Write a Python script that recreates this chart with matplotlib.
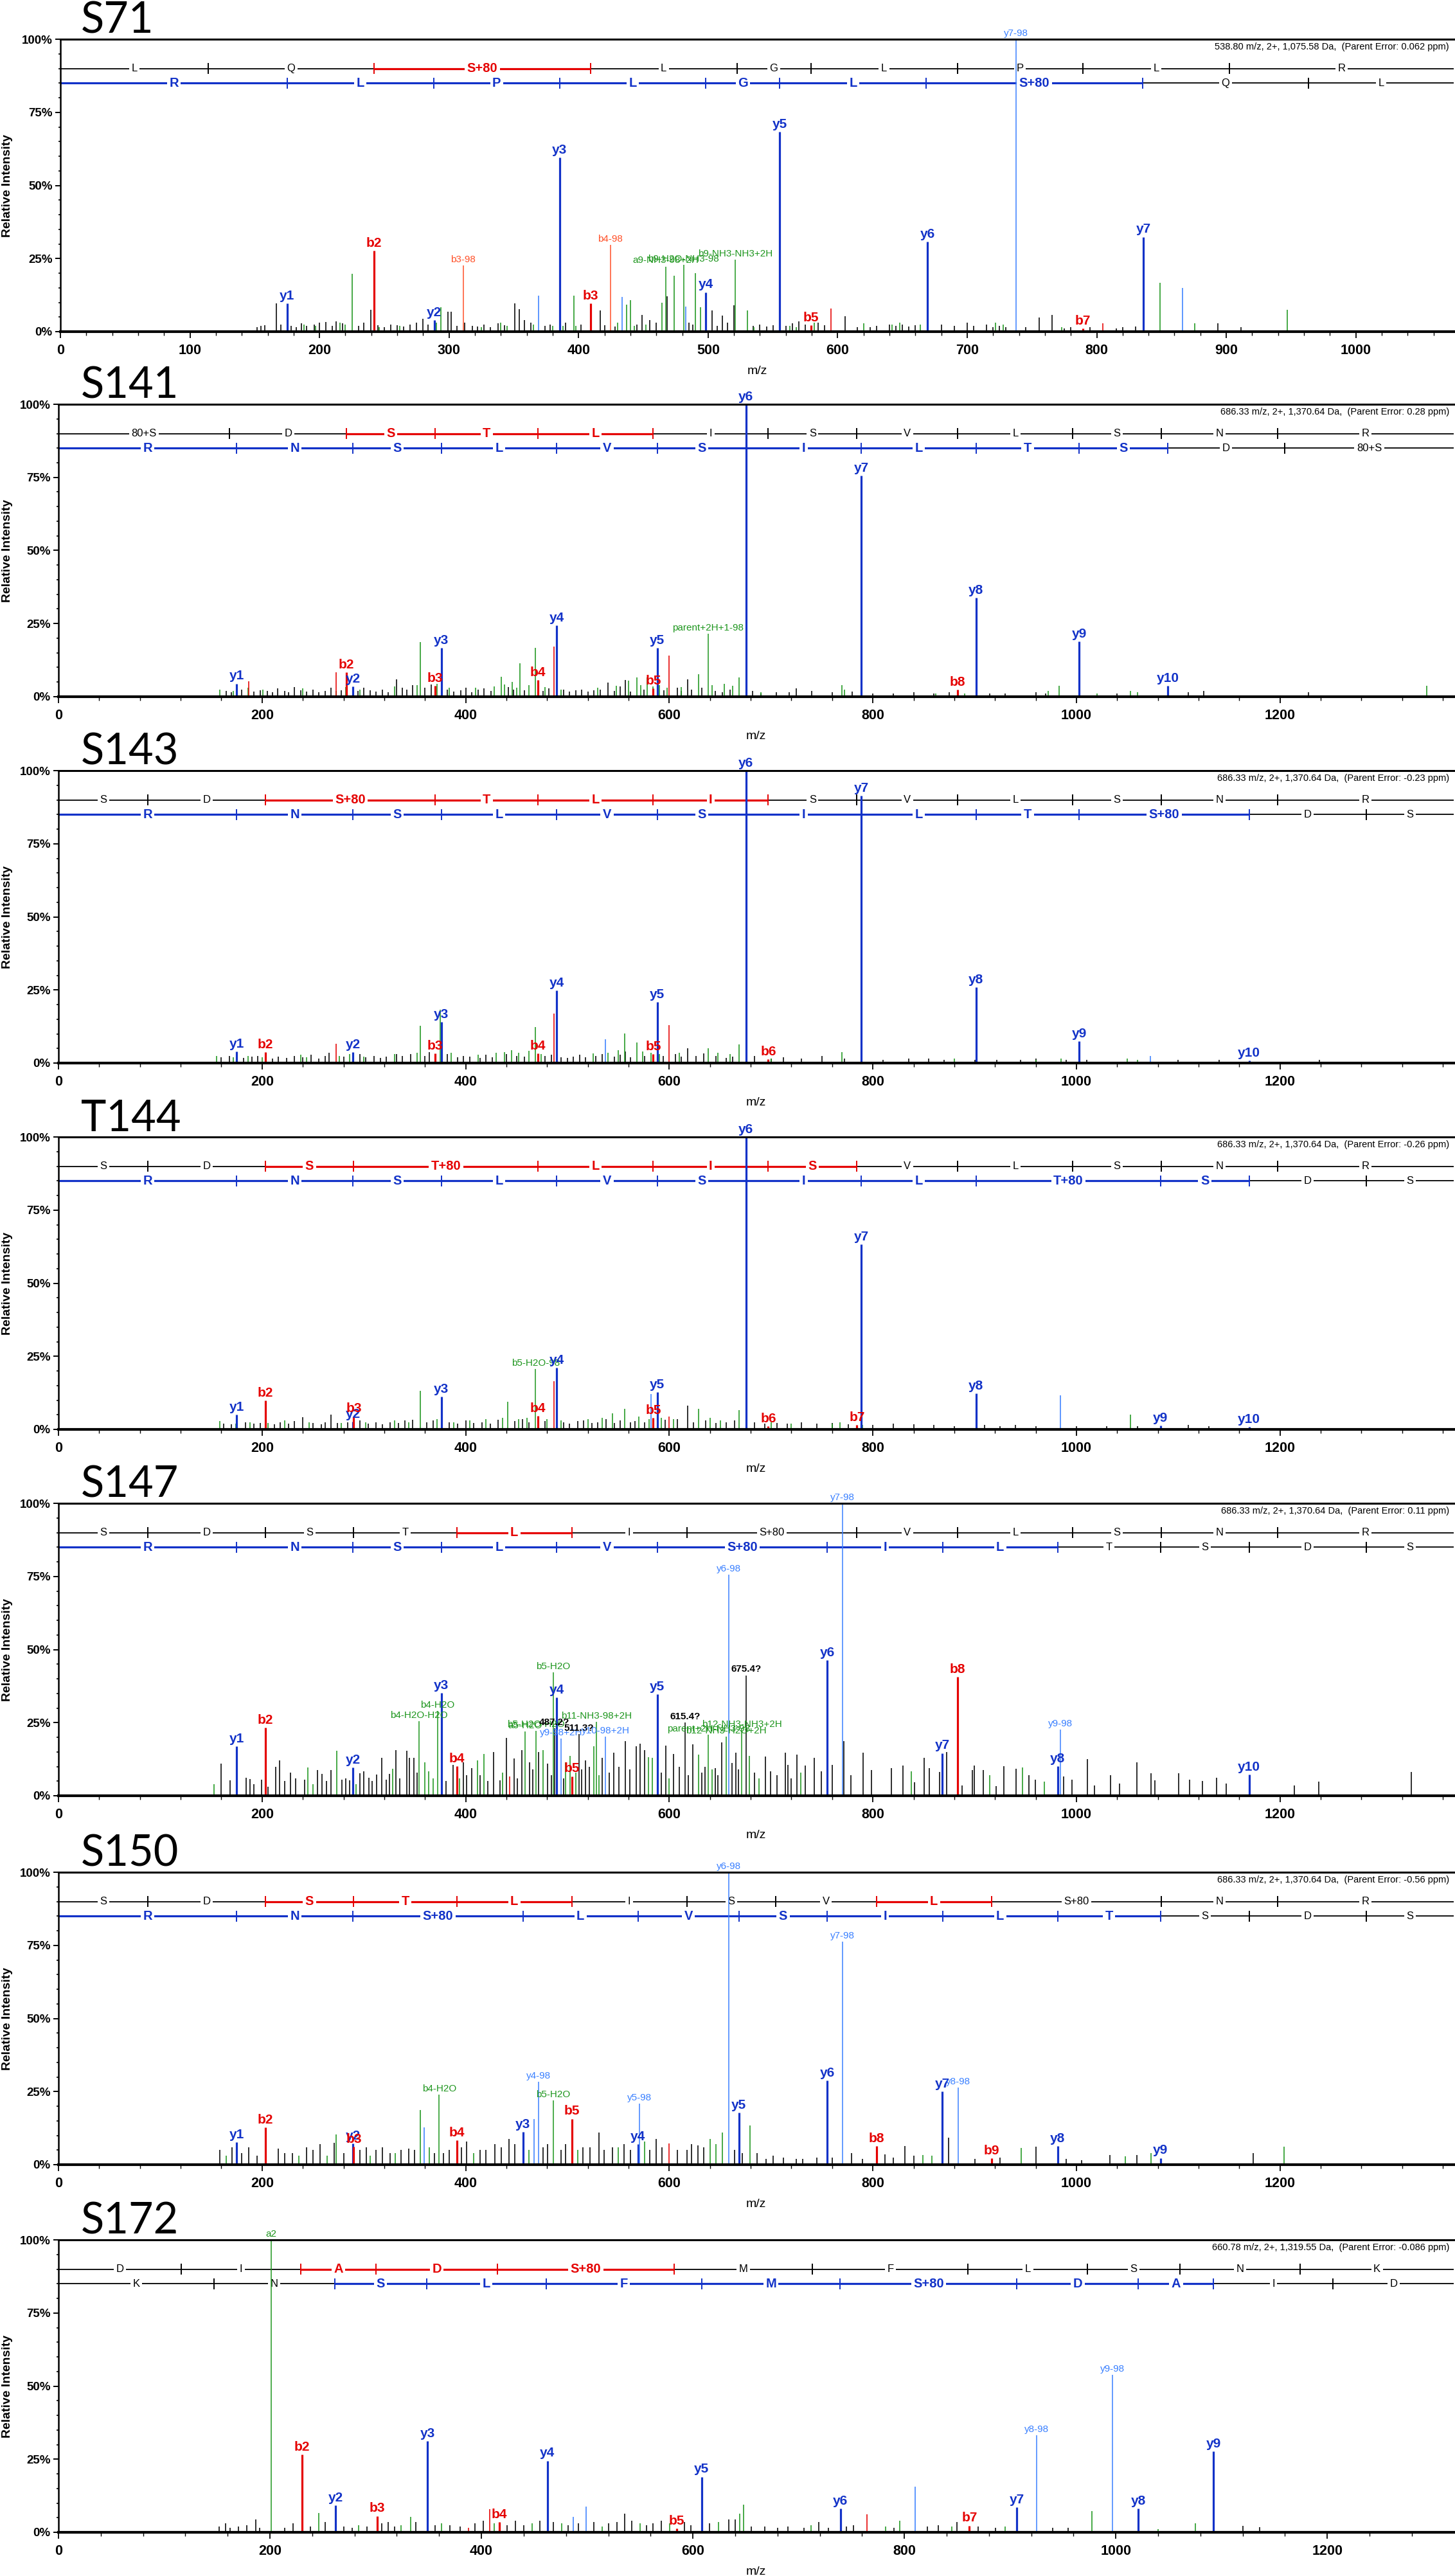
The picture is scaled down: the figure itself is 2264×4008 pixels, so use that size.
import numpy as np
import matplotlib
matplotlib.use("Agg")
import matplotlib.pyplot as plt
from matplotlib import font_manager as fm

_names = {f.name for f in fm.fontManager.ttflist}
SANS = "Liberation Sans" if "Liberation Sans" in _names else "DejaVu Sans"
TITLE_FONT = "Lato" if "Lato" in _names else SANS
plt.rcParams["font.family"] = [SANS, "DejaVu Sans"]

# ======================= DATA =======================
# ---------- Panel 1 : S71 ----------
S71_ion_mz = [175.1, 242.2, 288.6, 311.0, 385.3, 409.2, 424.5, 467.3, 481.0, 498.3, 521.1, 555.3, 579.3, 669.3, 737.6, 789.4, 836.2]
S71_ion_int = [9.6, 27.7, 4.0, 22.7, 59.5, 9.6, 29.6, 22.3, 22.8, 13.5, 24.7, 68.3, 2.1, 30.8, 100.0, 1.1, 32.4]
S71_ion_lab = ["y1", "b2", "y2", "b3-98", "y3", "b3", "b4-98", "a9-NH3-98+2H", "b9-H2O-NH3-98", "y4", "b9-NH3-NH3+2H", "y5", "b5", "y6", "y7-98", "b7", "y7"]
S71_ion_col = ["B", "r", "B", "o", "B", "r", "o", "g", "g", "B", "g", "B", "r", "B", "c", "r", "B"]
S71_blk_mz = [152, 155, 158, 166.6, 170, 178, 182, 186, 190, 196,
              200, 205, 210, 213, 218, 230, 234, 239.8, 245, 250,
              255, 260, 265, 270, 275, 280, 284, 299.3, 301.8, 306,
              312, 318, 322, 327, 332, 338, 343, 350.9, 354, 358,
              363, 374, 378, 390, 402, 416.9, 420, 428, 445, 449.1,
              455, 460, 468.5, 485, 488, 502.9, 507, 510.8, 515, 519.7,
              535, 540, 545, 550, 560, 565, 570, 575, 585, 590,
              605.8, 615, 625, 630, 640, 645, 650, 655, 660, 680,
              690, 700, 705, 715, 720, 725, 730, 745, 755.6, 765.7,
              775, 780, 795, 815, 820, 830, 893.6, 911.5]
S71_blk_int = [1.5, 2, 2.3, 9.7, 2.5, 2, 1.5, 2.8, 2, 2.5,
               3, 3.2, 2, 3.5, 2.8, 2, 3.1, 7.5, 2.2, 1.5,
               2.5, 2.2, 1.8, 2.4, 3, 4.5, 2.5, 6.8, 6.8, 2,
               3, 2, 1.8, 2.5, 1.5, 2.8, 2.2, 9.6, 7.6, 4,
               3, 2, 2.5, 3, 2.5, 7.2, 2.2, 1.8, 2.5, 5.8,
               4, 3, 12, 3, 2.5, 7.2, 2, 5.5, 3, 9,
               2, 2.5, 1.8, 2.2, 2, 2.8, 3.5, 2.5, 3, 2.2,
               5.3, 1.5, 1.5, 2, 2.5, 2, 2.5, 1.8, 2.2, 2.5,
               2, 3, 2, 2.5, 1.5, 2, 1.5, 1.5, 4.9, 5.7,
               1.2, 1.5, 1.5, 1.2, 1.5, 1.8, 2.9, 1.6]
S71_grn_mz = [188, 197, 216, 220, 225, 246, 262, 290, 293.9, 325,
              340, 345, 365, 380, 388, 396.4, 398, 430, 436.9, 440,
              443, 452, 464.5, 473.9, 490, 494.3, 530.4, 535.5, 563, 568,
              582, 620, 642, 648, 664, 722, 728, 773, 848.8, 875.6, 947]
S71_grn_int = [2.5, 2, 3, 2.5, 19.8, 1.5, 2, 3, 8.4, 1.5,
               3, 2, 2.5, 2, 2, 12.2, 2, 3, 9.2, 10.8,
               2, 2.5, 10, 19.2, 20, 8.3, 7.2, 1.5, 2, 1.5,
               3, 2.8, 2.5, 3, 2.5, 3, 2.5, 1.5, 16.8, 2.9, 7.5]
S71_blu_mz = [369.2, 433.4, 482.5, 866]
S71_blu_int = [12.2, 11.8, 8.6, 14.9]
S71_red_mz = [594.6, 804.6]
S71_red_int = [7.9, 2.9]
S71_top_res = ["L", "Q", "S+80", "L", "G", "L", "P", "L", "R"]
S71_top_cut = [114.09, 242.15, 409.15, 522.23, 579.25, 692.34, 789.39, 902.47]
S71_top_col = "kkrkkkkkk"
S71_bot_res = ["R", "L", "P", "L", "G", "L", "S+80", "Q", "L"]
S71_bot_cut = [175.12, 288.2, 385.25, 498.34, 555.36, 668.44, 835.44, 963.5]
S71_bot_col = "BBBBBBBkk"

# ---------- Panel 2 : S141 ----------
S141_ion_mz = [175.1, 283.0, 289.2, 370.1, 376.2, 471.1, 489.3, 584.2, 588.3, 638.3, 675.4, 788.5, 883.4, 901.5, 1002.6, 1089.6]
S141_ion_int = [4.5, 8.4, 3.6, 3.7, 16.6, 5.7, 24.4, 2.8, 16.6, 21.5, 100.0, 75.6, 2.4, 33.8, 18.8, 3.7]
S141_ion_lab = ["y1", "b2", "y2", "b3", "y3", "b4", "y4", "b5", "y5", "parent+2H+1-98", "y6", "y7", "b8", "y8", "y9", "y10"]
S141_ion_col = ["B", "r", "B", "r", "B", "r", "B", "r", "B", "g", "B", "B", "r", "B", "B", "B"]
S141_blk_mz = [165, 170, 180, 192, 198, 205, 210, 215, 222, 226,
               231.6, 238, 244, 250, 256, 262, 268, 278, 294, 300,
               306, 312, 318, 324, 332, 338, 342, 348, 360, 366,
               382, 388, 395, 400, 406, 412, 418, 425, 442, 447,
               458, 476, 482, 496, 502, 508, 514, 520, 526, 532,
               540, 546, 552, 557, 562, 575, 595, 608, 612, 618,
               622, 632, 645, 652, 660, 682, 690, 705, 718, 725,
               740, 760, 780, 800, 820, 840, 860, 875, 915, 930,
               960, 970, 1040, 1110, 1125, 1228]
S141_blk_int = [2, 1.5, 2.5, 1.8, 2.2, 2, 1.5, 2.8, 2, 1.6,
                3.4, 2.2, 1.8, 2.5, 1.5, 2, 3, 2.2, 2, 3,
                2.2, 1.8, 2.5, 1.5, 6, 3, 2.5, 4, 3, 4.2,
                2.5, 1.8, 2.2, 3, 1.5, 2.5, 2.8, 2, 3.2, 2.4,
                2.2, 2, 2.8, 2.5, 1.8, 2.2, 2.5, 1.8, 2.2, 2.5,
                4.9, 2, 3.5, 5.7, 1.8, 2.5, 2.2, 3, 2, 6,
                2.5, 3, 2, 1.5, 2.5, 2, 1.2, 1.5, 1.5, 2.8,
                2, 1.5, 1.8, 1.2, 1, 1.5, 1, 1.5, 1.2, 1,
                1.5, 1.2, 1, 1.5, 2, 1.6]
S141_grn_mz = [158.7, 172, 186, 201, 240, 273, 282, 296, 330, 352,
               355.6, 372, 384, 410, 428, 435, 438, 446, 450, 453,
               462, 468.7, 478, 494, 530, 548, 560, 568, 572, 578,
               584, 590, 598, 612, 629, 642, 654, 662, 668.4, 690,
               769.7, 772, 862, 890, 972, 983, 1020, 1053, 1060, 1344.2]
S141_grn_int = [2.4, 2, 3, 2.5, 2.8, 2, 3.2, 2.5, 3.5, 4,
                18.7, 4.5, 3, 3, 3.6, 6.9, 4.2, 5, 3, 11.4,
                4, 16.6, 3.2, 2.5, 3, 3.8, 5.5, 6.5, 4, 6.5,
                3.5, 4, 3, 3.3, 7.7, 4, 4.5, 3.8, 6.5, 1.5,
                4, 2.5, 1.2, 1, 2, 3.7, 1.2, 2, 1.5, 3.7]
S141_blu_mz = []
S141_blu_int = []
S141_red_mz = [187, 272.7, 487, 600]
S141_red_int = [5.3, 8.3, 17.2, 14]
S141_top_res = ["80+S", "D", "S", "T", "L", "I", "S", "V", "L", "S", "N", "R"]
S141_top_cut = [168.0, 283.03, 370.06, 471.11, 584.2, 697.28, 784.31, 883.38, 996.46, 1083.5, 1197.5]
S141_top_col = "kkrrrkkkkkkk"
S141_bot_res = ["R", "N", "S", "L", "V", "S", "I", "L", "T", "S", "D", "80+S"]
S141_bot_cut = [175.12, 289.16, 376.19, 489.28, 588.34, 675.38, 788.46, 901.54, 1002.59, 1089.62, 1204.65]
S141_bot_col = "BBBBBBBBBBkk"

# ---------- Panel 3 : S143 ----------
S143_ion_mz = [175.1, 203.1, 289.2, 370.1, 376.2, 471.1, 489.3, 584.2, 588.3, 675.4, 697.3, 788.5, 901.5, 1002.6, 1169.6]
S143_ion_int = [3.9, 3.7, 3.7, 3.2, 14.0, 3.2, 24.8, 3.0, 20.9, 100.0, 1.3, 91.5, 26.0, 7.5, 0.8]
S143_ion_lab = ["y1", "b2", "y2", "b3", "y3", "b4", "y4", "b5", "y5", "y6", "b6", "y7", "y8", "y9", "y10"]
S143_ion_col = ["B", "r", "B", "r", "B", "r", "B", "r", "B", "B", "r", "B", "B", "B", "B"]
S143_blk_mz = [160, 168, 182, 190, 196, 210, 216, 224, 232, 240,
               248, 256, 262, 266, 280, 296, 302, 310, 316, 322,
               332, 338, 346, 360, 364, 382, 392, 398, 404, 414,
               420, 426, 440, 450, 458, 478, 484, 494, 500, 506,
               512, 518, 528, 534, 546, 552, 557, 562, 576, 594,
               606, 612, 618, 626, 634, 646, 656, 662, 684, 700,
               712, 730, 750, 772, 810, 835, 855, 870, 900, 922,
               945, 960, 990, 1010, 1100, 1140, 1239]
S143_blk_int = [2, 2.5, 1.8, 2.2, 2.5, 1.5, 2.2, 1.8, 2.5, 2,
                2.8, 1.6, 2.5, 3.5, 2.2, 3, 2, 2.5, 1.8, 2.2,
                3, 2.5, 3, 2.5, 3.8, 3, 2, 2.5, 2.2, 1.8,
                2.8, 2, 3, 2.5, 2.2, 2.5, 2.8, 2, 1.8, 2.2,
                2.8, 2, 2.5, 3, 2.2, 2.8, 4, 2, 2.5, 2.5,
                3, 2.2, 5, 2.5, 3.2, 2.5, 1.8, 2.2, 2.5, 1.5,
                2, 1.5, 2.5, 1.5, 1.2, 1.5, 1.5, 1.2, 1, 1,
                1.2, 1.5, 1, 1.2, 1, 1.2, 1]
S143_grn_mz = [155, 172, 186, 200, 238, 244, 276, 286, 300, 330,
               352, 355.6, 374.8, 386, 412, 430, 438, 445, 452, 462,
               468.7, 474, 490, 525, 540, 550, 556, 568, 574, 582,
               590, 610, 638, 648, 660, 668.4, 700, 769.7, 880, 960,
               985, 1050, 1060]
S143_grn_int = [2.5, 2, 2.5, 2, 2.8, 2, 2.5, 3, 2.2, 3,
                3.5, 12.7, 18.3, 3.5, 2.8, 3.5, 3.8, 4.3, 3.5, 4.2,
                12.4, 3, 2.5, 3.2, 3.5, 4.5, 10.2, 7.1, 4, 3.5,
                3, 3.5, 5.1, 3.5, 3, 6.3, 1.5, 3.7, 1.5, 1.2,
                1.5, 1.5, 1.2]
S143_blu_mz = [537, 1072.4]
S143_blu_int = [8.1, 2.4]
S143_red_mz = [272.7, 487, 600]
S143_red_int = [6.7, 17, 13]
S143_top_res = ["S", "D", "S+80", "T", "L", "I", "S", "V", "L", "S", "N", "R"]
S143_top_cut = [88.04, 203.07, 370.07, 471.12, 584.2, 697.28, 784.31, 883.38, 996.46, 1083.5, 1197.5]
S143_top_col = "kkrrrrkkkkkk"
S143_bot_res = ["R", "N", "S", "L", "V", "S", "I", "L", "T", "S+80", "D", "S"]
S143_bot_cut = [175.12, 289.16, 376.19, 489.28, 588.34, 675.38, 788.46, 901.54, 1002.59, 1169.6, 1284.6]
S143_bot_col = "BBBBBBBBBBkk"

# ---------- Panel 4 : T144 ----------
T144_ion_mz = [175.1, 203.1, 289.2, 290.1, 376.2, 468.7, 471.1, 489.3, 584.2, 588.3, 675.4, 697.3, 784.3, 788.5, 901.5, 1082.6, 1169.6]
T144_ion_int = [5.0, 9.8, 2.7, 4.5, 11.2, 20.6, 4.7, 21.0, 3.9, 12.7, 100.0, 1.0, 1.6, 63.2, 12.2, 1.3, 0.8]
T144_ion_lab = ["y1", "b2", "y2", "b3", "y3", "b5-H2O-98", "b4", "y4", "b5", "y5", "y6", "b6", "b7", "y7", "y8", "y9", "y10"]
T144_ion_col = ["B", "r", "B", "r", "B", "g", "r", "B", "r", "B", "B", "r", "r", "B", "B", "B", "B"]
T144_blk_mz = [162, 170, 184, 192, 198, 212, 218, 226, 232, 239.8,
               250, 258, 262, 268, 274, 284, 296, 304, 312, 318,
               326, 334, 340, 348, 362, 368, 384, 392, 400, 408,
               416, 424, 432, 448, 456, 462, 478, 496, 502, 510,
               516, 524, 530, 538, 546, 552, 562, 566, 576, 596,
               608, 618, 624, 636, 646, 656, 664, 684, 694, 706,
               716, 730, 745, 760, 776, 800, 820, 840, 860, 880,
               910, 925, 940, 960, 1000, 1030, 1060, 1110, 1130]
T144_blk_int = [2, 1.8, 2.5, 2, 2.2, 1.8, 2.5, 2, 2.8, 4.1,
                2.2, 1.8, 2.5, 5, 2.2, 2.5, 3, 2, 2.5, 1.8,
                2.5, 2.2, 3, 3.2, 2.5, 3, 2.5, 2, 3, 2.2,
                2.5, 2, 3.2, 2.8, 3.5, 2.5, 2.8, 2.5, 2, 2.8,
                3, 2.2, 2.5, 3.5, 2.2, 3, 2.5, 2.8, 2.5, 3.2,
                3.5, 8.1, 2.5, 3, 2.2, 2.5, 3, 2.5, 2, 2.2,
                2, 2.5, 2, 2.2, 1.8, 1.5, 2, 1.8, 1.5, 1.2,
                1.5, 1.2, 1.5, 1.2, 1, 1.2, 1, 1.5, 1]
T144_grn_mz = [158.7, 174, 188, 206, 222, 246, 278, 290, 302, 330,
               344, 355.6, 372, 388, 404, 420, 436, 441.4, 452, 460,
               480, 494, 520, 534, 544, 556, 570, 580, 592, 604,
               629, 640, 650, 668.4, 700, 720, 760, 768, 790, 1053]
T144_grn_int = [2.9, 2, 2.5, 2.2, 3, 2.5, 2.2, 3, 2.5, 3,
                2.5, 13.2, 3.5, 2.5, 3, 3.5, 4, 9.4, 3.5, 4,
                3.5, 3, 3.5, 4, 5.5, 7.1, 4.5, 3.5, 4, 3.5,
                7.1, 4, 3, 6.7, 2.5, 2, 2, 2.5, 1.5, 5]
T144_blu_mz = [581.8, 984]
T144_blu_int = [12.0, 11.6]
T144_red_mz = [487, 600]
T144_red_int = [16.5, 4.3]
T144_top_res = ["S", "D", "S", "T+80", "L", "I", "S", "V", "L", "S", "N", "R"]
T144_top_cut = [88.04, 203.07, 290.1, 471.11, 584.2, 697.28, 784.31, 883.38, 996.46, 1083.5, 1197.5]
T144_top_col = "kkrrrrrkkkkk"
T144_bot_res = ["R", "N", "S", "L", "V", "S", "I", "L", "T+80", "S", "D", "S"]
T144_bot_cut = [175.12, 289.16, 376.19, 489.28, 588.34, 675.38, 788.46, 901.54, 1082.55, 1169.58, 1284.6]
T144_bot_col = "BBBBBBBBBBkk"

# ---------- Panel 5 : S147 ----------
S147_ion_mz = [175.1, 203.1, 289.2, 354.3, 372.4, 376.2, 391.2, 458.2, 469.2, 486.2, 487.2, 489.3, 493.7, 504.2, 511.3, 528.6,
               537.4, 588.3, 615.4, 638.4, 656.0, 658.4, 671.1, 675.4, 755.3, 770.5, 868.4, 883.4, 981.5, 984.0, 1169.6]
S147_ion_int = [17.0, 23.2, 9.7, 25.5, 29.1, 35.1, 10.2, 22.0, 22.3, 42.1, 23.0, 33.7, 19.5, 6.7, 21.0, 25.3,
                20.3, 34.8, 25.0, 20.9, 20.2, 75.5, 22.3, 41.2, 46.3, 100.0, 14.6, 40.7, 10.1, 22.7, 7.3]
S147_ion_lab = ["y1", "b2", "y2", "b4-H2O-H2O", "b4-H2O", "y3", "b4", "a5-H2O", "b5-H2O-H2O", "b5-H2O", "487.2?", "y4",
                "y9-98+2H", "b5", "511.3?", "b11-NH3-98+2H", "y10-98+2H", "y5", "615.4?", "parent+2H-NH3-98",
                "b12-NH3-H2O+2H", "y6-98", "b12-NH3-NH3+2H", "675.4?", "y6", "y7-98", "y7", "b8", "y8", "y9-98", "y10"]
S147_ion_col = ["B", "r", "B", "g", "g", "B", "r", "g", "g", "g", "k", "B", "c", "r", "k", "g",
                "c", "B", "k", "g", "g", "c", "g", "k", "B", "c", "B", "r", "B", "c", "B"]
S147_blk_mz = [159.6, 168.7, 184.3, 187.9, 192, 199.6, 206, 213.4, 217, 222,
               228, 233, 241.8, 254.5, 259.1, 263, 267.6, 278.3, 282, 286.1,
               296, 299.6, 304.9, 308, 312.4, 317.7, 322, 325.2, 331.6, 335,
               342.2, 345, 349.3, 352, 381, 387.6, 397.5, 400.7, 406, 414,
               422, 427.3, 433.7, 440.1, 447.9, 451, 455, 462.8, 466, 471.6,
               480.5, 484, 496, 514, 517.8, 521.4, 533.8, 541, 545.5, 550.5,
               556.9, 561, 567.5, 571.1, 575.7, 592, 596.7, 604.1, 610, 619,
               623.3, 632, 635, 645, 648, 651.7, 661.6, 665.2, 668, 684,
               694.4, 699.7, 706, 713.9, 716.8, 720, 725.6, 733.8, 742.4, 749.7,
               760.3, 771.8, 778.3, 790.2, 798.8, 818.4, 829.4, 840.9, 850.3, 855.2,
               865.4, 872.8, 887.5, 897.7, 899.8, 908.8, 921.4, 928.4, 940.6, 953.3,
               959.5, 987.3, 995.5, 1010.6, 1018, 1033.5, 1042.1, 1059.7, 1073.2, 1077.3,
               1100.6, 1111.2, 1123.9, 1137.8, 1147.2, 1214.2, 1238.3, 1329]
S147_blk_int = [11, 5.3, 6.2, 5.8, 4, 5.6, 3, 10, 12.1, 5,
                8, 6, 5.5, 8.8, 7.4, 5, 8.9, 5.5, 6, 5.2,
                7.7, 8.4, 6.2, 5, 7.3, 12.9, 5.5, 7.4, 15.5, 6,
                15.3, 13, 12.9, 8, 5, 10.6, 11.4, 7, 9.5, 7,
                5, 15, 5.2, 19.7, 12.8, 6, 15.7, 11.4, 9, 15,
                11, 7, 6, 9, 12.1, 10, 12.9, 8, 14.7, 10,
                18.6, 9, 16.9, 17.9, 15.7, 8, 17.2, 14.3, 10, 7,
                17.6, 8, 10, 9.5, 7, 18.3, 11.2, 14.7, 9, 8,
                13.4, 8.4, 7, 14.7, 10.5, 6, 14, 10.3, 12.9, 8.4,
                10.6, 18.6, 7.1, 14.7, 8.8, 9.4, 10.3, 4.6, 12.9, 9.4,
                8.2, 15, 3.6, 8.7, 10.3, 8.9, 3.4, 10.1, 9.2, 7.1,
                5.6, 6.6, 5.6, 12.6, 3.6, 7.1, 4.1, 11.4, 7.7, 5.3,
                7.7, 5.6, 5, 6.2, 4.1, 3.6, 4.8, 8.2]
S147_grn_mz = [153, 245, 250, 273.3, 292, 328, 359.9, 363.5, 368, 394,
               411.4, 417.8, 436, 476.3, 498.3, 502.5, 508, 526, 531, 579.3,
               583.5, 600, 628.9, 642, 678.8, 688, 729, 838, 914.9, 946.8, 968.5]
S147_grn_int = [3.9, 9.7, 4, 15.4, 4, 9.2, 11.4, 8.4, 6, 6,
                12, 14.3, 8, 15.7, 11.4, 13.6, 8, 17, 7, 13.2,
                12.9, 6, 14, 9, 13.7, 6, 8, 8.4, 7, 9.7, 4.8]
S147_blu_mz = []
S147_blu_int = []
S147_red_mz = [443.3]
S147_red_int = [6.6]
S147_top_res = ["S", "D", "S", "T", "L", "I", "S+80", "V", "L", "S", "N", "R"]
S147_top_cut = [88.04, 203.07, 290.1, 391.15, 504.23, 617.31, 784.31, 883.38, 996.46, 1083.5, 1197.5]
S147_top_col = "kkkkrkkkkkkk"
S147_bot_res = ["R", "N", "S", "L", "V", "S+80", "I", "L", "T", "S", "D", "S"]
S147_bot_cut = [175.12, 289.16, 376.19, 489.28, 588.34, 755.34, 868.43, 981.51, 1082.56, 1169.59, 1284.62]
S147_bot_col = "BBBBBBBBkkkk"

# ---------- Panel 6 : S150 ----------
S150_ion_mz = [175.1, 203.1, 289.2, 290.1, 373.9, 391.2, 456.2, 471.4, 486.2, 504.2, 569.2, 571.0, 658.4, 668.3, 755.3,
               770.5, 803.4, 868.4, 883.6, 916.5, 981.5, 1082.6]
S150_ion_int = [7.6, 12.8, 7.2, 6.2, 24.0, 8.4, 11.2, 28.3, 22.0, 15.7, 7.0, 20.8, 100.0, 17.7, 28.7,
                76.3, 6.3, 25.0, 26.3, 2.1, 6.3, 2.3]
S150_ion_lab = ["y1", "b2", "y2", "b3", "b4-H2O", "b4", "y3", "y4-98", "b5-H2O", "b5", "y4", "y5-98", "y6-98", "y5", "y6",
                "y7-98", "b8", "y7", "y8-98", "b9", "y8", "y9"]
S150_ion_col = ["B", "r", "B", "r", "g", "r", "B", "c", "g", "r", "B", "c", "c", "B", "B",
                "c", "r", "B", "c", "r", "B", "B"]
S150_blk_mz = [158.7, 170.5, 180, 187, 195, 216, 222, 229.8, 243.5, 250,
               257, 270.8, 280, 296, 302.7, 312, 318, 325.5, 336.5, 343.8,
               350, 369.3, 378, 384, 396, 401, 414, 420, 428.6, 435,
               442.3, 448, 476, 480.6, 494, 498, 515, 522, 530.7, 536,
               544.4, 555.4, 562, 581, 587.3, 593, 608, 617.4, 622, 628.3,
               634, 664, 672, 686, 694.9, 702, 712, 725, 731.4, 745,
               760, 778.8, 790, 811.6, 820, 831.6, 840, 874.5, 900, 925,
               960, 990, 1005, 1033, 1059.6, 1173.6]
S150_blk_int = [5, 6, 4, 6, 3, 5.5, 4, 4, 6, 5,
                7, 7.5, 4, 5, 6, 5, 6, 4, 5, 5.5,
                5, 4, 4, 5, 6, 8, 5, 5, 7, 6,
                8.8, 7, 6, 7, 5, 7, 6, 6, 11, 5,
                6, 7, 5, 5, 8.9, 6, 5, 5, 7, 6.5,
                6, 5, 4, 4, 2, 3, 2.5, 2, 2, 2.5,
                2.5, 3.9, 2, 3.5, 2.5, 6.3, 3, 9.2, 2, 2.5,
                6.2, 2, 1.5, 3.3, 3.3, 3.9]
S150_grn_mz = [165, 236, 264, 272.7, 306, 331, 355.6, 364, 408, 462,
               510, 550, 576, 640, 646, 652, 679.3, 849, 858, 945.6,
               1047.8, 1073.3, 1203.7]
S150_grn_int = [3, 3, 3, 10.4, 3, 4, 18.7, 6, 4, 5,
                5, 6, 8, 8.9, 7, 11, 13.5, 3.3, 3, 5.7,
                2.9, 3.9, 6.2]
S150_blu_mz = [359.3, 466.9]
S150_blu_int = [12.7, 15.7]
S150_red_mz = [600]
S150_red_int = [7.3]
S150_top_res = ["S", "D", "S", "T", "L", "I", "S", "V", "L", "S+80", "N", "R"]
S150_top_cut = [88.04, 203.07, 290.1, 391.15, 504.23, 617.31, 704.34, 803.41, 916.5, 1083.5, 1197.5]
S150_top_col = "kkrrrkkkrkkk"
S150_bot_res = ["R", "N", "S+80", "L", "V", "S", "I", "L", "T", "S", "D", "S"]
S150_bot_cut = [175.12, 289.16, 456.16, 569.24, 668.31, 755.34, 868.43, 981.51, 1082.56, 1169.59, 1284.62]
S150_bot_col = "BBBBBBBBBkkk"

# ---------- Panel 7 : S172 ----------
S172_ion_mz = [201.3, 230.3, 262.0, 301.5, 349.0, 416.7, 462.4, 584.6, 608.3, 739.4, 861.5, 906.4, 924.8, 996.9, 1021.4, 1092.4]
S172_ion_int = [100.0, 26.5, 9.2, 5.6, 31.3, 3.5, 24.5, 1.4, 19.0, 8.1, 2.3, 8.5, 33.2, 53.8, 8.1, 27.6]
S172_ion_lab = ["a2", "b2", "y2", "b3", "y3", "b4", "y4", "b5", "y5", "y6", "b7", "y7", "y8-98", "y9-98", "y8", "y9"]
S172_ion_col = ["g", "r", "B", "r", "B", "r", "B", "r", "B", "B", "r", "B", "c", "c", "B", "B"]
S172_blk_mz = [152, 158.2, 162, 170, 178, 186.4, 190, 214, 222, 238,
               252, 270, 278, 292, 306, 312, 318, 338, 356, 370,
               380, 394, 402, 424, 432, 440, 455, 468, 482, 492,
               506, 520, 528, 535.4, 542, 556, 562, 570, 592, 598,
               616, 633.8, 640, 655, 668, 680, 690, 705, 719.1, 728,
               745, 752, 790, 822, 832, 850, 870, 886, 940, 955,
               1120, 1135.8]
S172_blk_int = [2, 3.1, 1.5, 2, 2.5, 4.4, 1.5, 1.5, 3, 2,
                3.5, 2, 1.5, 2, 3, 3.5, 2, 3.5, 2.5, 2.5,
                2, 3, 4, 2.5, 4, 2.5, 4, 3.5, 2.5, 3,
                3.5, 3, 3.5, 6.4, 4, 2.5, 3, 4, 3.5, 2.5,
                3, 4.5, 4.5, 2, 2, 1.5, 2, 1.5, 3.5, 1.5,
                2, 2.5, 1.5, 2, 2.5, 3.5, 2, 1.5, 1.5, 1.5,
                2.3, 1.7]
S172_grn_mz = [246.2, 284, 324, 333.2, 362, 412, 448, 476, 514, 550,
               578, 624, 644.4, 647.9, 712, 782, 795.6, 845, 895, 977.6,
               1040, 1075.1]
S172_grn_int = [6.7, 2.5, 2.5, 5.2, 3, 3, 3, 3, 2, 3,
                3, 3.5, 6.4, 9.5, 2.5, 2, 3.9, 2, 2, 7.3,
                1.2, 3.1]
S172_blu_mz = [487, 499.3, 810.5]
S172_blu_int = [5.2, 8.7, 15.7]
S172_red_mz = [388, 408, 764.8]
S172_red_int = [1.5, 7.9, 6.2]
S172_top_res = ["D", "I", "A", "D", "S+80", "M", "F", "L", "S", "N", "K"]
S172_top_cut = [116.03, 229.12, 300.15, 415.18, 582.18, 713.22, 860.29, 973.37, 1060.4, 1174.45]
S172_top_col = "kkrrrkkkkkk"
S172_bot_res = ["K", "N", "S", "L", "F", "M", "S+80", "D", "A", "I", "D"]
S172_bot_cut = [147.11, 261.16, 348.19, 461.27, 608.34, 739.38, 906.38, 1021.41, 1092.45, 1205.53]
S172_bot_col = "kkBBBBBBBkk"

PANEL_NAMES = ["S71", "S141", "S143", "T144", "S147", "S150", "S172"]
PARENT_MASS = [1075.58, 1370.64, 1370.64, 1370.64, 1370.64, 1370.64, 1319.55]
HEADERS = ["538.80 m/z, 2+, 1,075.58 Da,  (Parent Error: 0.062 ppm)",
           "686.33 m/z, 2+, 1,370.64 Da,  (Parent Error: 0.28 ppm)",
           "686.33 m/z, 2+, 1,370.64 Da,  (Parent Error: -0.23 ppm)",
           "686.33 m/z, 2+, 1,370.64 Da,  (Parent Error: -0.26 ppm)",
           "686.33 m/z, 2+, 1,370.64 Da,  (Parent Error: 0.11 ppm)",
           "686.33 m/z, 2+, 1,370.64 Da,  (Parent Error: -0.56 ppm)",
           "660.78 m/z, 2+, 1,319.55 Da,  (Parent Error: -0.086 ppm)"]
Y_TICKS = [0, 25, 50, 75, 100]
Y_TICK_LABELS = ["0%", "25%", "50%", "75%", "100%"]

# ======================= STYLE / LAYOUT =======================
COLORS = {"k": "#000000", "g": "#1E961E", "B": "#1232C8", "c": "#3A80FF", "r": "#E50000", "o": "#FF5028"}
W, H = 2264, 4008
AX_TOPS = [61, 629, 1199, 1769, 2339, 2913, 3485]
AX_H = 455
AX_RIGHT = 2262

fig = plt.figure(figsize=(W / 100, H / 100), dpi=100)
fig.patch.set_facecolor("white")


def ladder(ax, yv, res, cuts, cols, xmax):
    bounds = [0.0] + list(cuts) + [xmax]
    for i, r in enumerate(res):
        c = cols[i]
        colored = c != "k"
        ax.plot([bounds[i], bounds[i + 1]], [yv, yv], color=COLORS[c],
                lw=2.3 if colored else 1.3, solid_capstyle="butt", zorder=6)
        ax.text((bounds[i] + bounds[i + 1]) / 2, yv, r, ha="center", va="center",
                fontsize=14.5 if colored else 12, fontweight="bold" if colored else "normal",
                color=COLORS[c], zorder=7,
                bbox=dict(facecolor="white", edgecolor="none", pad=2.5))
    for j, x in enumerate(cuts):
        c = cols[j] if cols[j] != "k" else cols[j + 1]
        ax.vlines(x, yv - 1.9, yv + 1.9, colors=COLORS[c], lw=1.4, zorder=6)


def panel(i, name, ion_mz, ion_int, ion_lab, ion_col, noise, top, bot):
    xmax = PARENT_MASS[i]
    ytop = AX_TOPS[i]
    left = 94 if i == 0 else 91
    ax = fig.add_axes([left / W, 1 - (ytop + AX_H) / H, (AX_RIGHT - left) / W, AX_H / H])
    ax.set_xlim(0, xmax)
    ax.set_ylim(0, 100)

    for code, (mzs, ints) in noise.items():
        n = min(len(mzs), len(ints))
        if n:
            ax.vlines(mzs[:n], 0, ints[:n], colors=COLORS[code], lw=1.15, zorder=2)

    for m, v, lab, c in zip(ion_mz, ion_int, ion_lab, ion_col):
        main = c in ("B", "r")
        ax.vlines(m, 0, v, colors=COLORS[c], lw=2.3 if main else 1.1, zorder=8)
        ax.annotate(lab, (m, v), xytext=(0, 1.5), textcoords="offset points",
                    ha="center", va="bottom", fontsize=15 if main else 11,
                    fontweight="bold" if main or c == "k" else "normal",
                    color=COLORS[c], annotation_clip=False, zorder=10)

    ladder(ax, 90, top[0], top[1], top[2], xmax)
    ladder(ax, 85, bot[0], bot[1], bot[2], xmax)

    # spines
    ax.spines["right"].set_visible(False)
    ax.spines["top"].set_linewidth(2.2)
    ax.spines["bottom"].set_linewidth(3.0)
    ax.spines["left"].set_linewidth(1.8)
    for s in ax.spines.values():
        s.set_zorder(11)

    # ticks
    if i == 0:
        xmaj = np.arange(0, 1001, 100)
        xmin = np.arange(0, xmax, 20)
    else:
        xmaj = np.arange(0, 1201, 200)
        xmin = np.arange(0, xmax, 40)
    ax.set_xticks(xmaj)
    ax.set_xticks(xmin, minor=True)
    ax.set_xticklabels([str(int(t)) for t in xmaj], fontsize=15.5, fontweight="bold")
    ax.set_yticks(Y_TICKS)
    ax.set_yticks(np.arange(0, 101, 5), minor=True)
    ax.set_yticklabels(Y_TICK_LABELS, fontsize=13.5, fontweight="bold")
    ax.tick_params(axis="x", which="major", direction="out", length=7, width=1.3, pad=7)
    ax.tick_params(axis="x", which="minor", direction="out", length=4, width=1.0)
    ax.tick_params(axis="y", which="major", direction="out", length=6, width=1.4, pad=3)
    ax.tick_params(axis="y", which="minor", direction="out", length=2.5, width=1.2)

    # header text
    ax.text(1 - 7 / (AX_RIGHT - left), 1 - 12 / AX_H, HEADERS[i], transform=ax.transAxes,
            ha="right", va="center", fontsize=10.5, zorder=12)

    # panel title, axis labels
    fig.text(126 / W, 1 - (ytop - 9) / H, name, fontsize=48, ha="left", va="baseline",
             family=[TITLE_FONT, "DejaVu Sans"])
    fig.text(12 / W, 1 - (ytop + AX_H / 2) / H, "Relative Intensity", rotation=90,
             ha="center", va="center", fontsize=14, fontweight="bold")
    cx = (left + AX_RIGHT) / 2
    fig.text(cx / W, 1 - (ytop + AX_H + 61) / H, "m/z", ha="center", va="center", fontsize=14)
    return ax


PANELS = [
    (S71_ion_mz, S71_ion_int, S71_ion_lab, S71_ion_col,
     {"k": (S71_blk_mz, S71_blk_int), "g": (S71_grn_mz, S71_grn_int), "c": (S71_blu_mz, S71_blu_int), "r": (S71_red_mz, S71_red_int)},
     (S71_top_res, S71_top_cut, S71_top_col), (S71_bot_res, S71_bot_cut, S71_bot_col)),
    (S141_ion_mz, S141_ion_int, S141_ion_lab, S141_ion_col,
     {"k": (S141_blk_mz, S141_blk_int), "g": (S141_grn_mz, S141_grn_int), "c": (S141_blu_mz, S141_blu_int), "r": (S141_red_mz, S141_red_int)},
     (S141_top_res, S141_top_cut, S141_top_col), (S141_bot_res, S141_bot_cut, S141_bot_col)),
    (S143_ion_mz, S143_ion_int, S143_ion_lab, S143_ion_col,
     {"k": (S143_blk_mz, S143_blk_int), "g": (S143_grn_mz, S143_grn_int), "c": (S143_blu_mz, S143_blu_int), "r": (S143_red_mz, S143_red_int)},
     (S143_top_res, S143_top_cut, S143_top_col), (S143_bot_res, S143_bot_cut, S143_bot_col)),
    (T144_ion_mz, T144_ion_int, T144_ion_lab, T144_ion_col,
     {"k": (T144_blk_mz, T144_blk_int), "g": (T144_grn_mz, T144_grn_int), "c": (T144_blu_mz, T144_blu_int), "r": (T144_red_mz, T144_red_int)},
     (T144_top_res, T144_top_cut, T144_top_col), (T144_bot_res, T144_bot_cut, T144_bot_col)),
    (S147_ion_mz, S147_ion_int, S147_ion_lab, S147_ion_col,
     {"k": (S147_blk_mz, S147_blk_int), "g": (S147_grn_mz, S147_grn_int), "c": (S147_blu_mz, S147_blu_int), "r": (S147_red_mz, S147_red_int)},
     (S147_top_res, S147_top_cut, S147_top_col), (S147_bot_res, S147_bot_cut, S147_bot_col)),
    (S150_ion_mz, S150_ion_int, S150_ion_lab, S150_ion_col,
     {"k": (S150_blk_mz, S150_blk_int), "g": (S150_grn_mz, S150_grn_int), "c": (S150_blu_mz, S150_blu_int), "r": (S150_red_mz, S150_red_int)},
     (S150_top_res, S150_top_cut, S150_top_col), (S150_bot_res, S150_bot_cut, S150_bot_col)),
    (S172_ion_mz, S172_ion_int, S172_ion_lab, S172_ion_col,
     {"k": (S172_blk_mz, S172_blk_int), "g": (S172_grn_mz, S172_grn_int), "c": (S172_blu_mz, S172_blu_int), "r": (S172_red_mz, S172_red_int)},
     (S172_top_res, S172_top_cut, S172_top_col), (S172_bot_res, S172_bot_cut, S172_bot_col)),
]

for k, (imz, iint, ilab, icol, noise, top, bot) in enumerate(PANELS):
    panel(k, PANEL_NAMES[k], imz, iint, ilab, icol, noise, top, bot)

fig.savefig("out.png", dpi=100)
